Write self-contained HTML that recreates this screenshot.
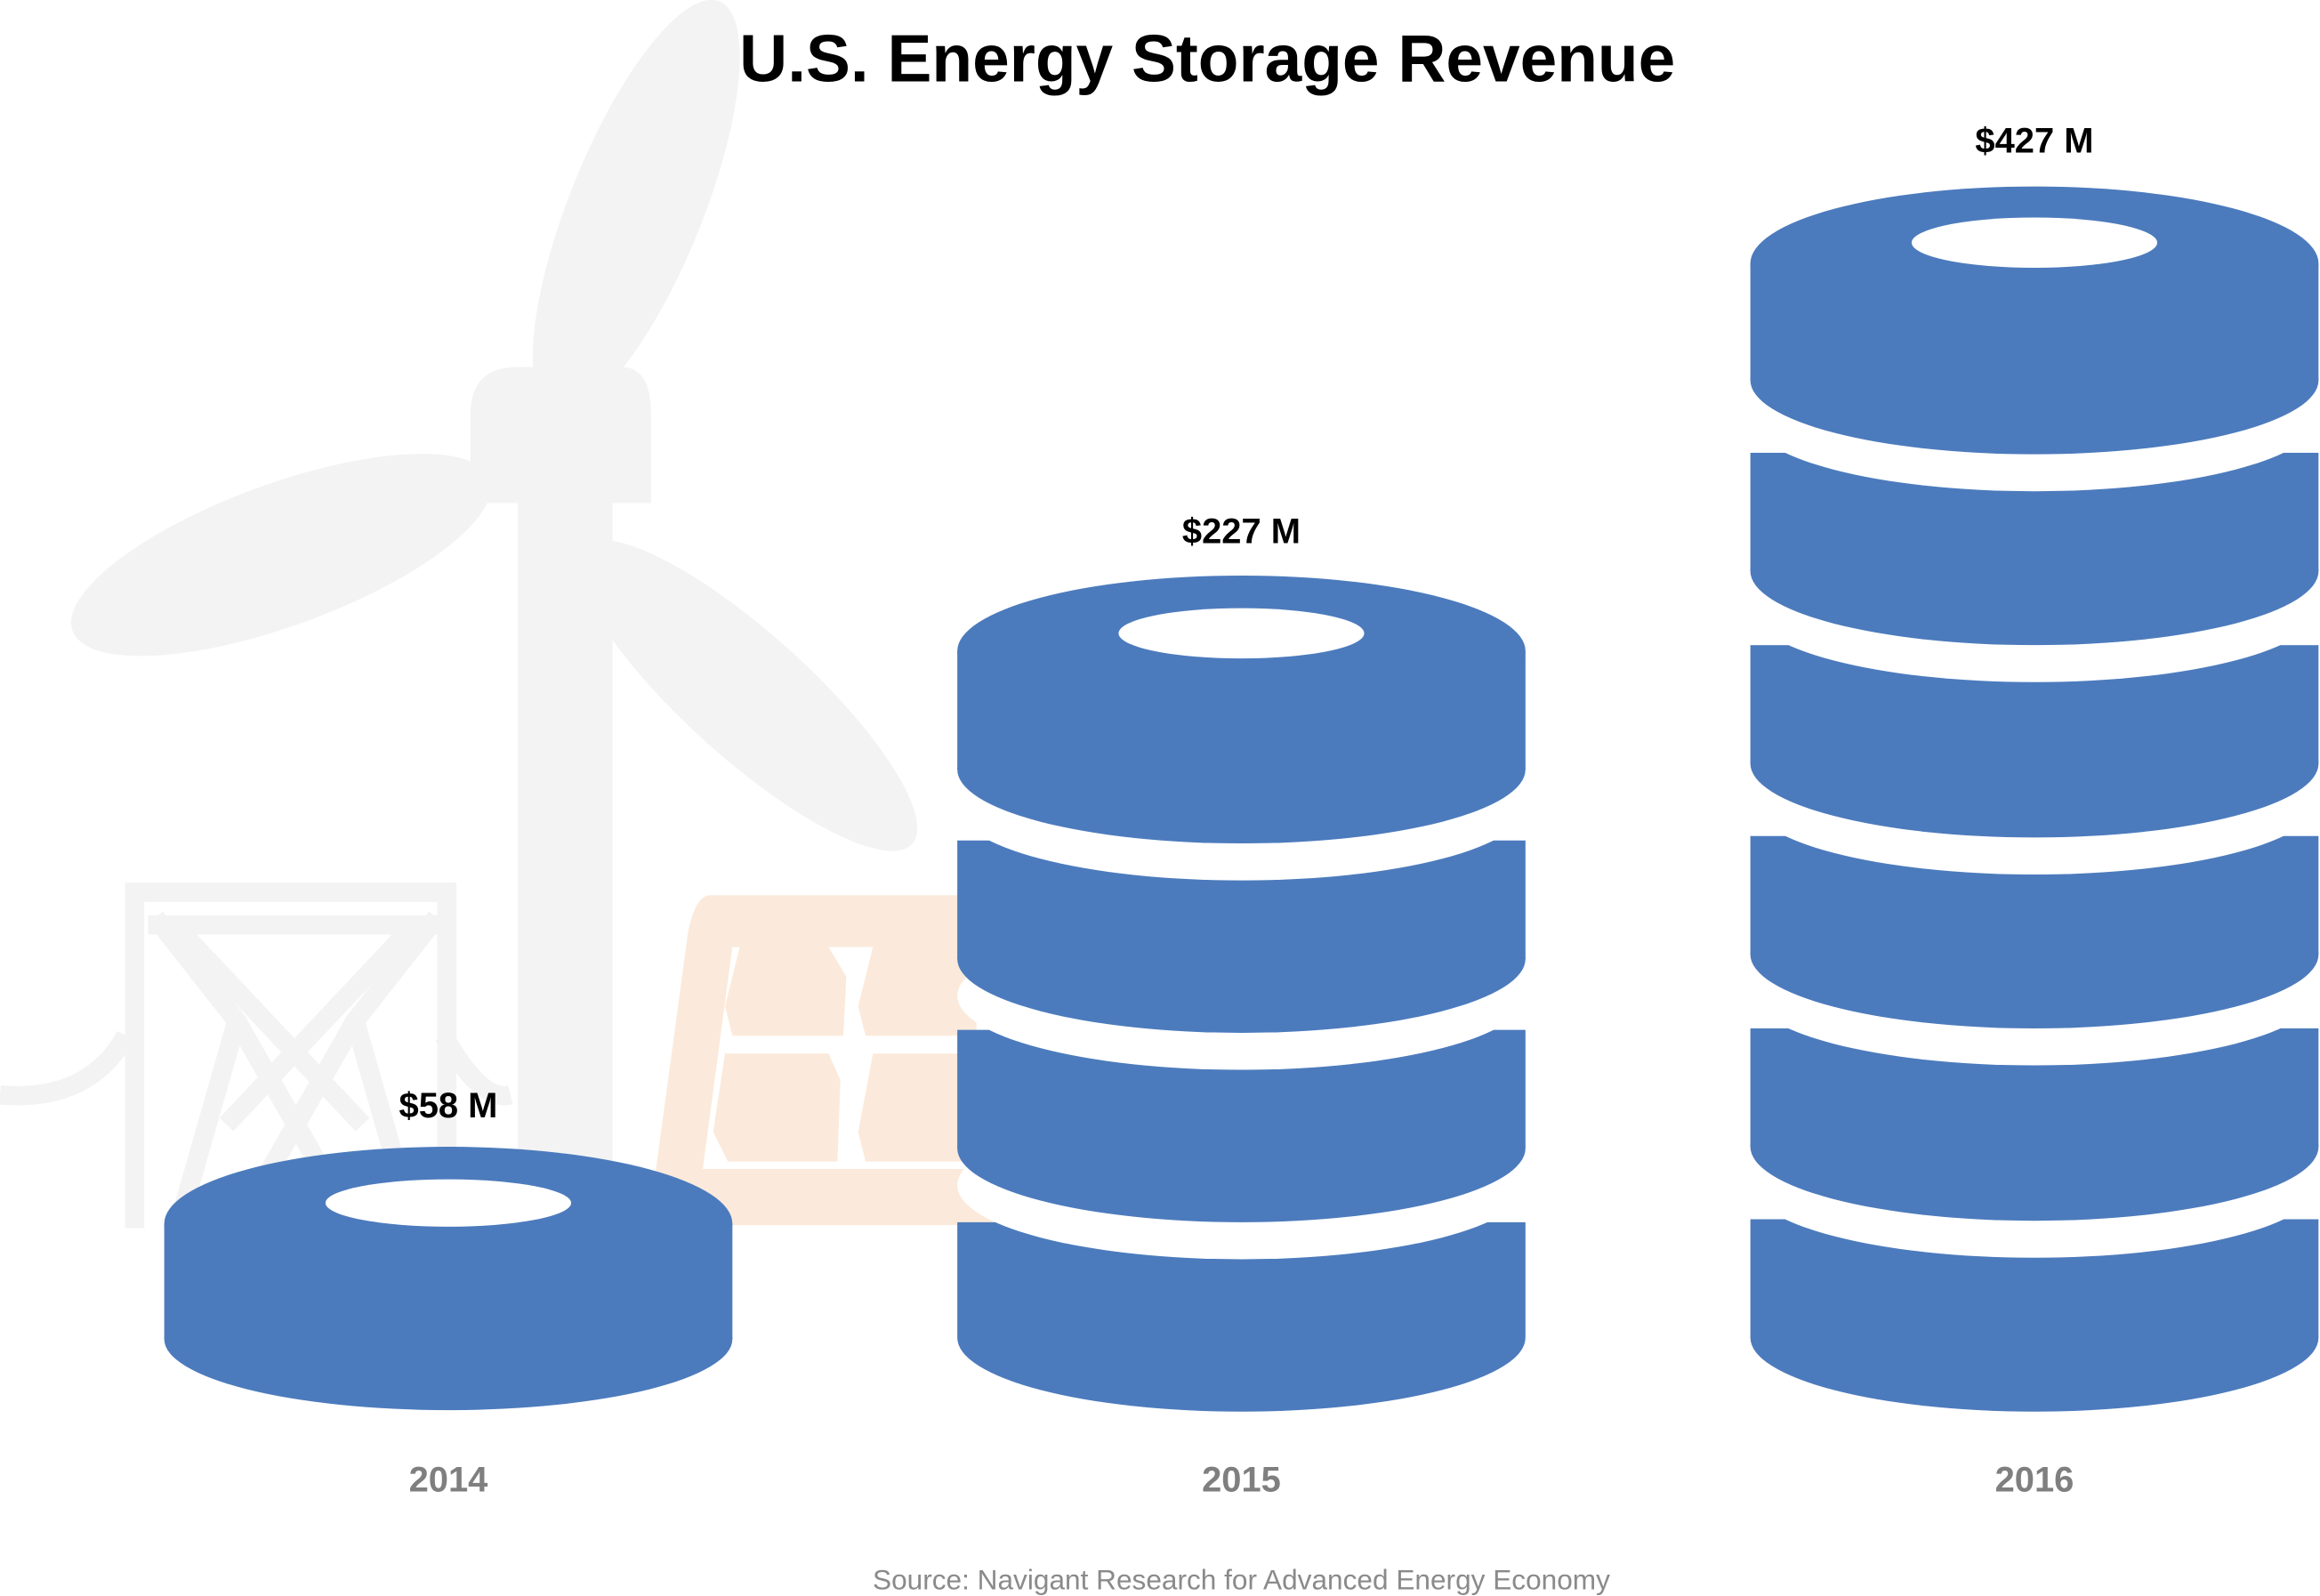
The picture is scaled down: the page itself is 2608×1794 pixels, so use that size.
<!DOCTYPE html>
<html><head><meta charset="utf-8"><style>
html,body{margin:0;padding:0;background:#fff}
svg{display:block}
</style></head><body>
<svg width="2608" height="1794" viewBox="0 0 1568 1078.6" preserveAspectRatio="none" xmlns="http://www.w3.org/2000/svg">
<rect width="1568" height="1080" fill="#fff"/>
<g fill="#f3f3f3">
<ellipse cx="430" cy="140" rx="45" ry="150" transform="rotate(22 430 140)"/>
<ellipse cx="190" cy="375" rx="150" ry="48" transform="rotate(-20 190 375)"/>
<ellipse cx="505" cy="470" rx="150" ry="42" transform="rotate(42 505 470)"/>
<path d="M318 340 V280 Q318 248 350 248 H420 Q440 248 440 280 V340 Z"/>
<rect x="350" y="330" width="64" height="500"/>
</g>
<g fill="none" stroke="#f3f3f3" stroke-width="13">
<path d="M91 830 V603 H302 V830"/>
<path d="M100 625 H298"/>
<path d="M105 620 L160 690 L120 830 M295 620 L240 690 L280 830"/>
<path d="M118 625 L245 760 M280 625 L153 760"/>
<path d="M160 690 L240 830 M240 690 L160 830"/>
<path d="M0 740 Q60 745 85 700 M300 700 Q325 745 345 740"/>
</g>
<g fill="#fbeadb">
<path d="M480 605 H800 V828 H470 Q440 828 442 800 L465 630 Q470 605 480 605 Z M495 640 L475 790 H780 L770 640 Z" fill-rule="evenodd"/>
<path d="M500 640 H560 L572 660 L570 700 H495 L490 680 Z"/>
<path d="M590 640 H650 L660 660 L660 700 H585 L580 680 Z"/>
<path d="M490 712 H560 L568 730 L566 785 H492 L482 765 Z"/>
<path d="M590 712 H650 L660 730 L660 785 H585 L580 765 Z"/>
</g>
<g fill="#4c7bbd">
<ellipse cx="303" cy="905" rx="192" ry="48"/>
<rect x="111" y="827" width="384" height="78"/>
<ellipse cx="303" cy="827" rx="192" ry="52"/>
</g>
<ellipse cx="303" cy="813" rx="83" ry="16" fill="#fff"/>
<g>
<path fill="#4c7bbd" d="M647 826 V904 A192 50 0 0 0 1031 904 V826 Z"/>
<ellipse cx="839" cy="801" rx="192" ry="50" fill="#fff"/>
<ellipse cx="839" cy="776" rx="192" ry="50" fill="#4c7bbd"/>
<rect x="647" y="696" width="384" height="80" fill="#4c7bbd"/>
<ellipse cx="839" cy="673" rx="192" ry="50" fill="#fff"/>
<ellipse cx="839" cy="648" rx="192" ry="50" fill="#4c7bbd"/>
<rect x="647" y="568" width="384" height="80" fill="#4c7bbd"/>
<ellipse cx="839" cy="545" rx="192" ry="50" fill="#fff"/>
<ellipse cx="839" cy="520" rx="192" ry="50" fill="#4c7bbd"/>
<rect x="647" y="440" width="384" height="80" fill="#4c7bbd"/>
<ellipse cx="839" cy="440" rx="192" ry="51" fill="#4c7bbd"/>
<ellipse cx="839" cy="428" rx="83" ry="17" fill="#fff"/>
</g>
<g>
<path fill="#4c7bbd" d="M1183 824 V904 A192 50 0 0 0 1567 904 V824 Z"/>
<ellipse cx="1375" cy="800" rx="192" ry="50" fill="#fff"/>
<ellipse cx="1375" cy="775" rx="192" ry="50" fill="#4c7bbd"/>
<rect x="1183" y="695" width="384" height="80" fill="#4c7bbd"/>
<ellipse cx="1375" cy="670" rx="192" ry="50" fill="#fff"/>
<ellipse cx="1375" cy="645" rx="192" ry="50" fill="#4c7bbd"/>
<rect x="1183" y="565" width="384" height="80" fill="#4c7bbd"/>
<ellipse cx="1375" cy="541" rx="192" ry="50" fill="#fff"/>
<ellipse cx="1375" cy="516" rx="192" ry="50" fill="#4c7bbd"/>
<rect x="1183" y="436" width="384" height="80" fill="#4c7bbd"/>
<ellipse cx="1375" cy="411" rx="192" ry="50" fill="#fff"/>
<ellipse cx="1375" cy="386" rx="192" ry="50" fill="#4c7bbd"/>
<rect x="1183" y="306" width="384" height="80" fill="#4c7bbd"/>
<ellipse cx="1375" cy="282" rx="192" ry="50" fill="#fff"/>
<ellipse cx="1375" cy="257" rx="192" ry="50" fill="#4c7bbd"/>
<rect x="1183" y="178" width="384" height="79" fill="#4c7bbd"/>
<ellipse cx="1375" cy="178" rx="192" ry="52" fill="#4c7bbd"/>
<ellipse cx="1375" cy="164" rx="83" ry="17" fill="#fff"/>
</g>
<g font-family="Liberation Sans, sans-serif" font-weight="bold" text-anchor="middle">
<text x="816" y="55" font-size="45" fill="#000">U.S. Energy Storage Revenue</text>
<text x="303" y="755" font-size="24" fill="#000">$58 M</text>
<text x="839" y="367" font-size="24" fill="#000">$227 M</text>
<text x="1375" y="103" font-size="24" fill="#000">$427 M</text>
<text x="303" y="1008" font-size="24" fill="#7f7f7f">2014</text>
<text x="839" y="1008" font-size="24" fill="#7f7f7f">2015</text>
<text x="1375" y="1008" font-size="24" fill="#7f7f7f">2016</text>
</g>
<text x="839" y="1074" font-family="Liberation Sans, sans-serif" font-size="19" fill="#8a8a8a" text-anchor="middle">Source: Navigant Research for Advanced Energy Economy</text>
</svg>
</body></html>
